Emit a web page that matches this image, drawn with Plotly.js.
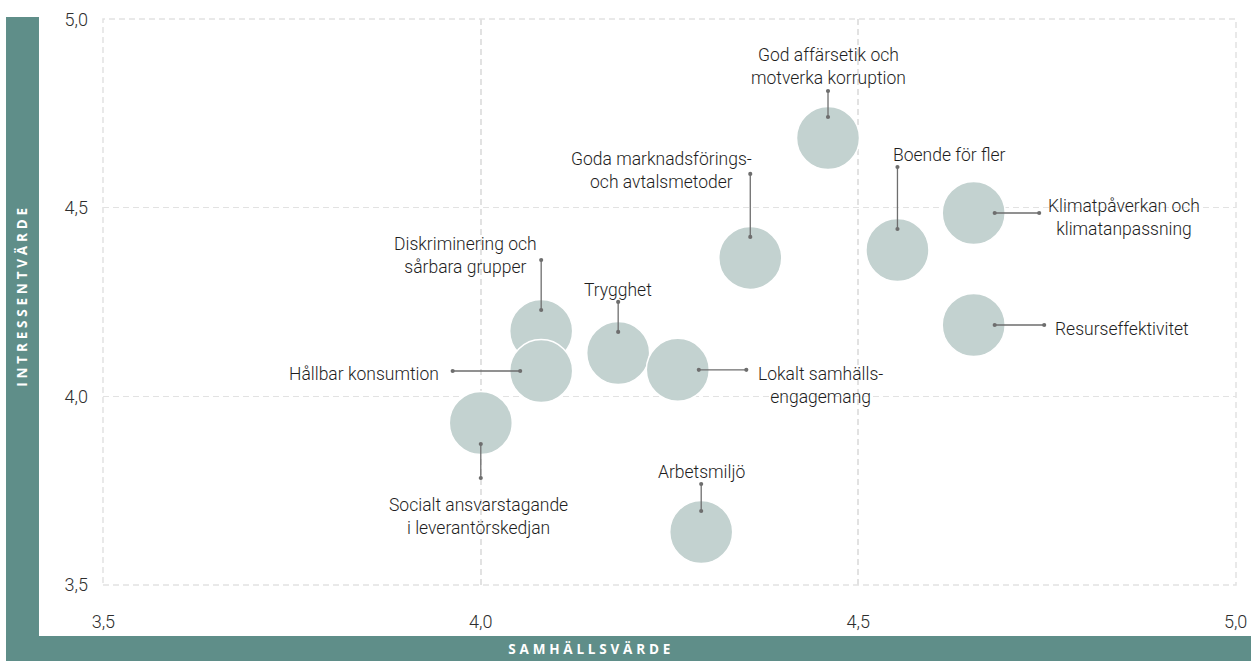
<!DOCTYPE html>
<html>
<head>
<meta charset="utf-8">
<script src="https://cdn.plot.ly/plotly-3.0.1.min.js"></script>
<style>
  html, body { margin: 0; padding: 0; background: #ffffff; }
  #chart { width: 1251px; height: 661px; }
</style>
</head>
<body>
<div id="chart"></div>
<script>
// ---- Data ----
const topics = [
  "God affärsetik och<br>motverka korruption",
  "Goda marknadsförings-<br>och avtalsmetoder",
  "Boende för fler",
  "Klimatpåverkan och<br>klimatanpassning",
  "Resurseffektivitet",
  "Diskriminering och<br>sårbara grupper",
  "Hållbar konsumtion",
  "Trygghet",
  "Lokalt samhälls-<br>engagemang",
  "Socialt ansvarstagande<br>i leverantörskedjan",
  "Arbetsmiljö"
];
const samhallsvarde   = [4.46, 4.357, 4.552, 4.653, 4.653, 4.08, 4.08, 4.182, 4.261, 4.00, 4.292];
const intressentvarde = [4.685, 4.367, 4.388, 4.486, 4.189, 4.173, 4.067, 4.115, 4.07, 3.929, 3.64];

const tickVals = [3.5, 4.0, 4.5, 5.0];
const tickText = ["3,5", "4,0", "4,5", "5,0"];

const xTitle = "SAMHÄLLSVÄRDE";
const yTitle = "INTRESSENTVÄRDE";

// ---- Label placement (pixel offsets from each bubble) ----
const leaders = [
  [0, -48], [0, -85], [0, -84], [66, 0], [71, 0], [0, -72],
  [-89, 0], [0, -52], [69, 0], [0, 56], [0, -49]
];
const labelPos = [
  {xa: "center", dx: 0,    dy: 71.5},
  {xa: "center", dx: -89,  dy: 87},
  {xa: "left",   dx: -6,   dy: 95},
  {xa: "left",   dx: 72,   dy: -4},
  {xa: "left",   dx: 79,   dy: -4},
  {xa: "right",  dx: -2,   dy: 75.5},
  {xa: "right",  dx: -100, dy: -3},
  {xa: "center", dx: 0,    dy: 63},
  {xa: "left",   dx: 78,   dy: -15.5},
  {xa: "center", dx: -2,   dy: -93},
  {xa: "center", dx: 0,    dy: 60}
];

const band = "#5f8e89";
const bubble = "#c3d2d0";
const gridColor = "#e2e2e2";
const gridDash = "6px,4px";
const labelFont = {family: "Roboto, 'Open Sans', sans-serif", size: 17.5, color: "#1e1e1e", weight: 300};

const trace = {
  type: "scatter",
  mode: "markers",
  x: samhallsvarde,
  y: intressentvarde,
  text: topics,
  hoverinfo: "text",
  marker: {
    size: 63,
    sizemode: "diameter",
    color: bubble,
    line: {color: "#ffffff", width: 1.5},
    opacity: 1
  },
  cliponaxis: false
};

const annotations = [];
topics.forEach((t, i) => {
  annotations.push({
    x: samhallsvarde[i], y: intressentvarde[i], xref: "x", yref: "y",
    text: " ", font: {size: 1},
    showarrow: true,
    ax: leaders[i][0], ay: leaders[i][1],
    arrowcolor: "#6e6e6e", arrowwidth: 1.3,
    arrowhead: 6, arrowsize: 0.8,
    startarrowhead: 6, startarrowsize: 0.8,
    arrowside: "end+start",
    standoff: 21,
    borderpad: 0
  });
  annotations.push({
    x: samhallsvarde[i], y: intressentvarde[i], xref: "x", yref: "y",
    text: t, showarrow: false,
    xanchor: labelPos[i].xa, yanchor: "middle",
    xshift: labelPos[i].dx, yshift: labelPos[i].dy,
    align: "center",
    font: labelFont
  });
});

annotations.push({
  xref: "paper", yref: "paper", x: -0.0715, y: 0.512,
  text: yTitle, textangle: -90, showarrow: false,
  xanchor: "center", yanchor: "middle",
  font: {family: "'Open Sans', sans-serif", size: 13.5, color: "#ffffff", weight: 700}
});
annotations.push({
  xref: "paper", yref: "paper", x: 0.4307, y: -0.113,
  text: xTitle, showarrow: false,
  xanchor: "center", yanchor: "middle",
  font: {family: "'Open Sans', sans-serif", size: 13.5, color: "#ffffff", weight: 700}
});

const axisCommon = {
  tickvals: tickVals,
  ticktext: tickText,
  showgrid: true,
  gridcolor: gridColor,
  gridwidth: 1.5,
  griddash: gridDash,
  zeroline: false,
  showline: false,
  ticks: "",
  tickfont: {family: "Roboto, 'Open Sans', sans-serif", size: 18, color: "#2e2e2e", weight: 300},
  fixedrange: true
};

const layout = {
  width: 1251, height: 661,
  margin: {l: 103, r: 15, t: 19, b: 76},
  paper_bgcolor: "#ffffff",
  plot_bgcolor: "#ffffff",
  showlegend: false,
  xaxis: Object.assign({}, axisCommon, {range: [3.4995, 5.0005], ticklabelstandoff: 24}),
  yaxis: Object.assign({}, axisCommon, {range: [3.4995, 5.0005], ticklabelstandoff: 14}),
  annotations: annotations,
  shapes: [
    {type: "rect", xref: "paper", yref: "paper", x0: -0.0856, x1: -0.0565, y0: -0.1343, y1: 1.0035,
     fillcolor: band, line: {width: 0}, layer: "below"},
    {type: "rect", xref: "paper", yref: "paper", x0: -0.0856, x1: 1.03, y0: -0.1343, y1: -0.0901,
     fillcolor: band, line: {width: 0}, layer: "below"},
    {type: "rect", xref: "paper", yref: "paper", x0: 0, x1: 1, y0: 0, y1: 1,
     fillcolor: "rgba(0,0,0,0)", line: {color: gridColor, width: 1.5, dash: gridDash}, layer: "below"}
  ]
};

Plotly.newPlot("chart", [trace], layout, {displayModeBar: false, staticPlot: true}).then(() => {
  document.querySelectorAll(".annotation-text").forEach(el => {
    const s = el.textContent;
    if (s === xTitle || s === yTitle) {
      el.setAttribute("letter-spacing", "3.8px");
    }
  });
});
</script>
</body>
</html>
